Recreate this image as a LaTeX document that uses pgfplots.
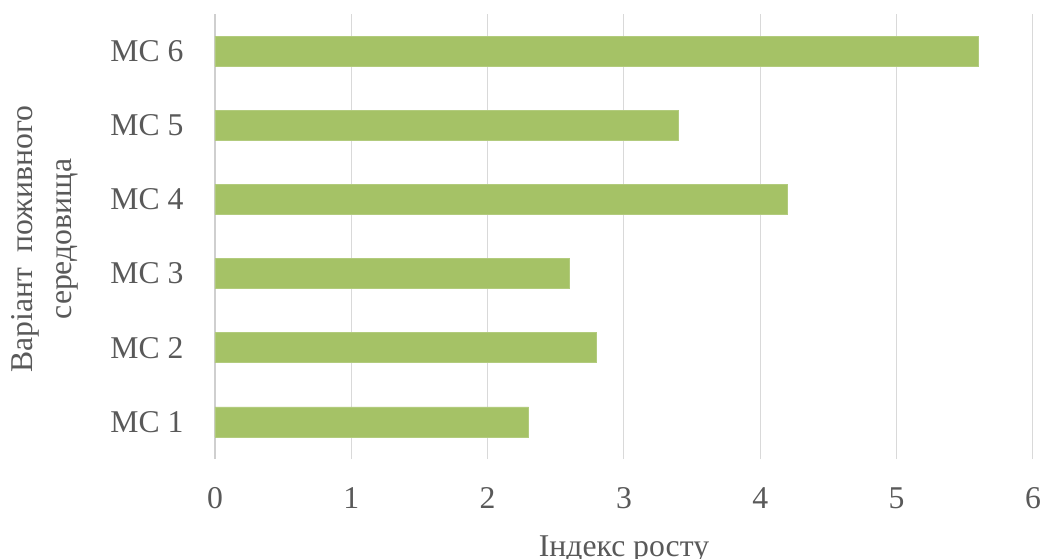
\documentclass[border=0pt]{standalone}
\usepackage{fontspec}
\setmainfont{Liberation Serif}
\usepackage{pgfplots}
\pgfplotsset{compat=1.18}
\definecolor{barg}{HTML}{A5C266}
\definecolor{gridg}{HTML}{D9D9D9}
\definecolor{axg}{HTML}{CFCFCF}
\definecolor{txt}{HTML}{595959}
\begin{document}
\begin{tikzpicture}
\begin{axis}[
  scale only axis,
  width=409pt, height=222.5pt,
  at={(0,0)}, anchor=origin,
  xbar, bar width=15pt,
  xmin=0, xmax=6, ymin=0.5, ymax=6.5,
  xtick={0,1,2,3,4,5,6},
  ytick={1,2,3,4,5,6},
  yticklabels={MC 1,MC 2,MC 3,MC 4,MC 5,MC 6},
  major tick length=0pt,
  axis x line*=bottom,
  axis y line*=left,
  x axis line style={draw=none},
  y axis line style={draw=axg, line width=0.6pt, -},
  xmajorgrids,
  grid style={draw=gridg, line width=0.5pt},
  /pgf/number format/assume math mode=true,
  tick label style={font=\fontsize{15.85}{19}\selectfont, text=txt},
  xticklabel style={anchor=north, inner sep=0pt, yshift=-14pt},
  yticklabel style={anchor=east, inner sep=0pt, xshift=-15.5pt},
  xlabel={Індекс росту},
  xlabel style={at={(axis description cs:0.5,0)}, anchor=base, yshift=-48.5pt, inner sep=0pt, font=\fontsize{15.85}{19}\selectfont, text=txt},
  ylabel={Варіант\ \ поживного\\середовища},
  ylabel style={at={(axis description cs:-0.2078,0.494)}, anchor=center, align=center, inner sep=0pt, font=\fontsize{15.85}{19.5}\selectfont, text=txt},
]
\addplot[fill=barg, draw=barg!85!white, line width=0.4pt] coordinates {
  (2.3,1) (2.8,2) (2.6,3) (4.2,4) (3.4,5) (5.6,6)
};
\end{axis}
\pgfresetboundingbox
\path[use as bounding box] (-107.5pt,-49.5pt) rectangle (412.5pt,229.5pt);
\end{tikzpicture}
\end{document}
